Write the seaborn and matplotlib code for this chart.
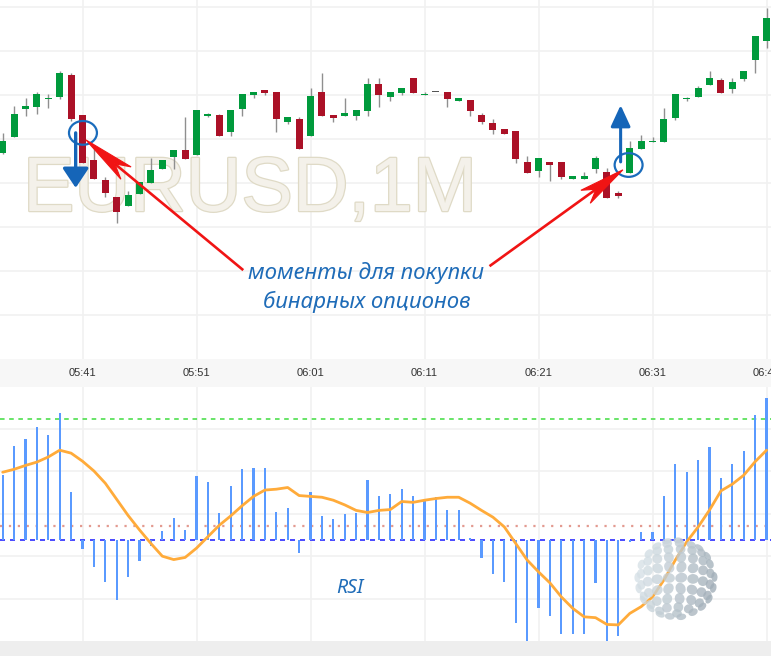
import numpy as np
import matplotlib
matplotlib.use("Agg")
import matplotlib.pyplot as plt
import seaborn as sns
from matplotlib.patches import Ellipse, Rectangle, FancyArrowPatch, Polygon
from matplotlib import transforms
import matplotlib.patheffects as pe

# ---------------- data ----------------
# one-minute candles 05:34 ... 06:41 (price in points, relative scale)
open_ = [46.9, 50.4, 56.9, 57.3, 59.1, 59.6, 64.5, 55.5, 45.2, 40.7,
         36.8, 34.8, 37.6, 40.1, 43.3, 46.0, 47.5, 46.4, 55.3, 55.5,
         51.7, 56.9, 60.1, 61.1, 60.7, 53.9, 54.5, 50.8, 60.7, 55.5,
         55.3, 55.3, 56.4, 62.5, 59.6, 60.5, 63.9, 60.0, 60.6, 60.7,
         58.7, 58.9, 55.5, 53.6, 52.3, 51.8, 44.8, 42.8, 44.8, 44.8,
         41.0, 41.0, 43.3, 42.5, 37.8, 42.3, 47.8, 49.3, 49.4, 54.8,
         59.1, 59.6, 62.3, 63.4, 61.4, 63.7, 68.0, 72.3]
close = [49.6, 55.8, 57.5, 60.2, 59.3, 65.0, 54.5, 44.6, 41.0, 37.7,
         33.5, 37.3, 40.2, 43.0, 45.2, 47.5, 45.5, 56.6, 55.5, 50.8,
         56.6, 60.2, 60.7, 60.5, 54.5, 55.0, 47.8, 59.8, 55.3, 54.8,
         55.9, 56.6, 62.5, 60.1, 60.7, 61.6, 60.5, 60.2, 60.6, 59.2,
         59.3, 56.4, 53.9, 52.1, 51.2, 45.5, 42.3, 45.7, 44.2, 41.4,
         41.6, 41.6, 45.7, 36.7, 37.1, 48.0, 49.5, 49.5, 54.5, 60.2,
         59.3, 61.6, 63.9, 60.5, 63.0, 65.5, 73.4, 77.5]
high = [51.4, 57.5, 59.3, 60.6, 60.2, 65.5, 65.0, 55.5, 48.3, 41.3,
        36.8, 38.2, 40.2, 45.8, 45.2, 47.5, 55.1, 56.6, 56.0, 55.8,
        56.6, 60.2, 60.7, 61.1, 60.7, 55.0, 55.1, 61.6, 65.0, 55.5,
        59.3, 56.6, 63.9, 63.9, 60.7, 61.6, 63.9, 60.7, 60.7, 60.7,
        59.3, 58.9, 56.0, 54.5, 52.3, 51.8, 46.1, 45.7, 44.8, 44.8,
        41.6, 42.5, 46.1, 43.4, 38.1, 49.5, 50.9, 50.5, 57.1, 60.2,
        59.6, 62.0, 65.5, 63.9, 63.9, 65.5, 73.4, 79.8]
low = [46.6, 50.4, 55.3, 55.8, 57.0, 59.2, 54.2, 44.6, 41.0, 36.8,
       31.0, 34.8, 37.6, 40.1, 43.3, 43.3, 45.5, 46.4, 55.1, 50.8,
       50.8, 55.3, 59.3, 60.1, 51.7, 53.4, 47.8, 50.8, 55.3, 53.9,
       55.3, 54.3, 55.3, 57.3, 58.7, 60.1, 60.5, 60.0, 60.6, 57.3,
       58.7, 55.3, 53.4, 51.2, 51.2, 44.6, 42.3, 41.4, 40.5, 41.0,
       41.0, 41.0, 42.3, 36.7, 36.7, 42.3, 47.8, 49.3, 49.4, 54.4,
       58.7, 59.6, 62.3, 60.5, 60.5, 63.3, 64.9, 70.8]

# lower panel: histogram bars and smoothed line (relative units, 0 = blue dashed line)
rsi_hist = [15.4, 22.3, 23.8, 26.6, 24.7, 29.9, 11.3, -2.2, -6.4, -10.0,
            -14.2, -8.8, -5.0, -1.3, 2.1, 5.1, 2.3, 15.0, 13.6, 6.3,
            12.7, 16.7, 17.1, 17.1, 6.7, 7.5, -3.1, 11.3, 5.6, 4.9,
            6.1, 6.5, 14.1, 10.3, 10.8, 12.0, 10.3, 9.4, 10.1, 7.0,
            7.0, 0.6, -4.3, -8.1, -10.0, -19.6, -24.2, -15.9, -18.0, -22.2,
            -22.2, -22.2, -10.1, -23.8, -22.7, -0.4, 1.8, 1.8, 10.3, 17.9,
            16.0, 19.0, 21.9, 14.6, 17.9, 20.9, 29.6, 33.4]
rsi_line = [16.0, 16.7, 17.6, 18.4, 19.6, 21.2, 20.5, 18.6, 16.3, 13.4,
            9.6, 5.8, 2.4, -0.8, -3.8, -4.6, -4.1, -1.9, 0.8, 3.5,
            5.7, 8.1, 10.3, 11.8, 12.0, 12.4, 10.5, 10.3, 10.1, 9.4,
            8.3, 7.0, 6.5, 7.0, 7.2, 9.1, 8.9, 9.4, 9.8, 10.1,
            10.1, 8.7, 7.0, 5.4, 3.1, -0.8, -4.7, -7.5, -10.1, -13.4,
            -16.1, -18.1, -18.3, -19.9, -20.0, -17.3, -15.7, -13.4, -9.4, -4.7,
            -0.4, 3.1, 7.1, 11.6, 13.2, 15.3, 18.5, 21.2]
upper_level = 28.5
lower_level = 3.3

tick_index = [7, 17, 27, 37, 47, 57, 67]
tick_labels = ["05:41", "05:51", "06:01", "06:11", "06:21", "06:31", "06:41"]

# ---------------- styling ----------------
sns.set_theme(style="white")
plt.rcParams['font.family'] = ['Liberation Sans', 'DejaVu Sans']

W, H = 771, 656
fig = plt.figure(figsize=(W / 100, H / 100), dpi=100)
fig.patch.set_facecolor('white')
pix = transforms.Affine2D().scale(1 / W, -1 / H).translate(0, 1) + fig.transFigure

GREEN = '#009a3c'
RED = '#ab1127'
GRID = '#f1f1f1'
BLUE = '#1a6cbc'

XLIM = (-0.237, 67.39)

ax1 = fig.add_axes([0, 1 - 359 / H, 1, 359 / H])
ax2 = fig.add_axes([0, 1 - 641 / H, 1, (641 - 387) / H])
for ax in (ax1, ax2):
    ax.set_facecolor('white')
    for s in ax.spines.values():
        s.set_visible(False)

# time band and bottom band
fig.patches.append(Rectangle((0, 1 - 387 / H), 1, 28 / H, transform=fig.transFigure,
                             facecolor='#f7f7f7', edgecolor='none', zorder=-2))
fig.patches.append(Rectangle((0, 0), 1, 15 / H, transform=fig.transFigure,
                             facecolor='#eeeeee', edgecolor='none', zorder=-2))

# ---------------- top panel: candles ----------------
n = len(open_)
x = np.arange(n)
o = np.array(open_); c = np.array(close); h = np.array(high); l = np.array(low)
colors = np.where(c > o, GREEN, np.where(c < o, RED, '#555555'))

ax1.set_xlim(*XLIM)
ax1.set_ylim(0, 81.6)
ax1.set_xticks(tick_index)
ax1.set_yticks(np.arange(10, 81, 10))
ax1.grid(True, color=GRID, lw=1.2)
ax1.set_axisbelow(True)
ax1.tick_params(length=0, labelleft=False, labelbottom=False)

wm = ax1.text(23, 211, "EURUSD,1M", transform=pix, ha='left', va='baseline',
              fontsize=55.5, family='Liberation Sans', color='#f4f1ea', zorder=1)
wm.set_path_effects([pe.withStroke(linewidth=1.8, foreground='#dfdac6')])

ax1.vlines(x, l, h, color='#8f8f8f', lw=1, zorder=3)
body_b = np.minimum(o, c)
body_h = np.maximum(np.abs(c - o), 0.3)
ax1.bar(x, body_h, bottom=body_b, width=0.62, color=colors, linewidth=0, zorder=4)

# blue circles and arrows
for cx, cy in [(7.04, 51.4), (54.9, 44.1)]:
    ax1.add_patch(Ellipse((cx, cy), 2.45, 5.4, fill=False, edgecolor=BLUE, lw=1.6, zorder=6))
ax1.add_patch(FancyArrowPatch((6.4, 51.4), (6.4, 38.9),
                              arrowstyle='-|>,head_length=12,head_width=8',
                              mutation_scale=1, color='#1565b8', lw=2.4,
                              shrinkA=0, shrinkB=0, zorder=7))
ax1.add_patch(FancyArrowPatch((54.2, 44.8), (54.2, 57.7),
                              arrowstyle='-|>,head_length=13,head_width=6',
                              mutation_scale=1, color='#1565b8', lw=2.2,
                              shrinkA=0, shrinkB=0, zorder=7))

# red arrows with narrow notched heads (built in display pixels)
RED_ARROW = '#f01414'
for tail, tip, hl in [((21.1, 20.2), (7.3, 49.8), 52), ((42.7, 21.1), (54.4, 43.0), 46)]:
    t0 = ax1.transData.transform(tail)
    t1 = ax1.transData.transform(tip)
    d = (t0 - t1) / np.hypot(*(t0 - t1))
    p = np.array([-d[1], d[0]])
    hw = 8.0
    notch = t1 + d * hl * 0.72
    poly = [t1, t1 + d * hl + p * hw, notch, t1 + d * hl - p * hw]
    ax1.plot([t0[0], notch[0]], [t0[1], notch[1]], transform=transforms.IdentityTransform(),
             color=RED_ARROW, lw=1.9, solid_capstyle='butt', zorder=8)
    ax1.add_patch(Polygon(poly, closed=True, transform=transforms.IdentityTransform(),
                          facecolor=RED_ARROW, edgecolor=RED_ARROW, lw=0.8, zorder=8))

ax1.text(366, 273, "моменты для покупки", transform=pix, ha='center', va='center',
         fontsize=16, family='Noto Sans', style='italic', color='#1f6cb8', zorder=9)
ax1.text(367, 302, "бинарных опционов", transform=pix, ha='center', va='center',
         fontsize=16, family='Noto Sans', style='italic', color='#1f6cb8', zorder=9)

# time labels in the band
tl = transforms.blended_transform_factory(ax1.transData, pix)
for ti, lab in zip(tick_index, tick_labels):
    fig.text(ti, 373, lab, transform=tl, ha='center', va='center', fontsize=8,
             family='Liberation Sans', color='#333333', zorder=10)

# ---------------- bottom panel ----------------
sns.barplot(x=x, y=rsi_hist, ax=ax2, color='#5a9aff', width=0.2, saturation=1,
            errorbar=None, linewidth=0, zorder=3)
ax2.axhline(upper_level, color='#3fdc3f', lw=1.1, ls=(0, (3, 3)), zorder=2)
ax2.axhline(lower_level, color='#e39a90', lw=1.6, ls=(0, (1, 3)), zorder=2)
ax2.axhline(0, color='#2b2bff', lw=1.2, ls=(0, (3, 3)), zorder=2)
sns.lineplot(x=x, y=rsi_line, ax=ax2, color='#ffab3a', lw=2, zorder=6)

ax2.set_xlim(*XLIM)
ax2.set_ylim(-23.8, 36.1)
ax2.set_xticks(tick_index)
ax2.set_yticks([-13.8, -3.8, 6.2, 16.2, 26.2])
ax2.grid(True, color=GRID, lw=1.2)
ax2.set_axisbelow(True)
ax2.tick_params(length=0, labelleft=False, labelbottom=False)
ax2.set_xlabel(''); ax2.set_ylabel('')

ax2.text(350, 588, "RSI", transform=pix, ha='center', va='center', fontsize=14,
         family='Noto Sans', style='italic', color='#1f6cb8', zorder=9)

# decorative sphere logo (watermark)
ax3 = fig.add_axes([(676 - 60) / W, 1 - (579 + 60) / H, 120 / W, 120 / H])
ax3.set_xlim(-60 / 39, 60 / 39); ax3.set_ylim(-60 / 39, 60 / 39)
ax3.axis('off'); ax3.patch.set_alpha(0)
light = np.array([0.87, 0.91, 0.93]); dark = np.array([0.62, 0.67, 0.71])
tilt = np.radians(-18)
for lat in np.arange(-80, 81, 16):
    nlon = max(3, int(round(20 * np.cos(np.radians(lat)))))
    for lon in np.linspace(0, 360, nlon, endpoint=False):
        la, lo = np.radians(lat), np.radians(lon + 8)
        X = np.cos(la) * np.sin(lo); Y = np.sin(la); Z = np.cos(la) * np.cos(lo)
        Y2 = Y * np.cos(tilt) - Z * np.sin(tilt); Z2 = Y * np.sin(tilt) + Z * np.cos(tilt)
        if Z2 <= 0.05:
            continue
        t = np.clip((X + 1) / 2 * 0.85 + (1 - Y2) * 0.1, 0, 1)
        col = light * (1 - t) + dark * t
        ang = np.degrees(np.arctan2(Y2, X)) if abs(X) + abs(Y2) > 1e-6 else 0
        ax3.add_patch(Ellipse((X, Y2), 0.26 * (0.3 + 0.7 * Z2) + 0.05, 0.25, angle=ang,
                              facecolor=col, edgecolor='none', alpha=0.8))
ax2.set_zorder(1); ax3.set_zorder(2)

fig.savefig("out.png", dpi=100)
